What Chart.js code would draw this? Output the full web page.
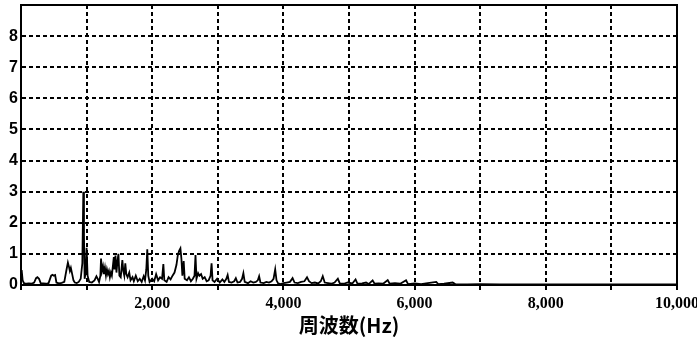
<!DOCTYPE html>
<html>
<head>
<meta charset="utf-8">
<script src="https://cdn.jsdelivr.net/npm/chart.js@4/dist/chart.umd.min.js"></script>
<style>
  body { margin: 0; background: #fff; }
</style>
</head>
<body>
<canvas id="spectrumCanvas" width="697" height="343"></canvas>
<script>
// spectrum (Hz, amplitude)
const freqHz = [
    0, 10, 25, 45, 80, 120, 160, 200, 230, 250, 275, 300, 340, 380, 420, 460, 480, 500, 520, 540,
    580, 620, 660, 690, 715, 730, 745, 760, 780, 800, 820, 850, 880, 910, 935, 950, 960, 970, 985, 1000,
    1015, 1040, 1080, 1120, 1150, 1170, 1190, 1210, 1220, 1235, 1250, 1265, 1280, 1295, 1310, 1325, 1340, 1355, 1370, 1385,
    1400, 1415, 1425, 1440, 1455, 1470, 1485, 1500, 1520, 1545, 1560, 1575, 1590, 1605, 1625, 1650, 1670, 1700, 1720, 1750,
    1780, 1810, 1840, 1870, 1890, 1910, 1925, 1940, 1960, 2000, 2030, 2060, 2090, 2120, 2150, 2170, 2185, 2220, 2250, 2280,
    2310, 2340, 2370, 2390, 2410, 2430, 2445, 2460, 2480, 2495, 2530, 2560, 2590, 2620, 2645, 2660, 2675, 2700, 2720, 2745,
    2770, 2800, 2830, 2860, 2890, 2905, 2920, 2950, 2990, 3030, 3070, 3100, 3130, 3150, 3170, 3210, 3250, 3275, 3300, 3340,
    3370, 3390, 3410, 3460, 3500, 3540, 3580, 3610, 3630, 3650, 3700, 3740, 3780, 3820, 3850, 3875, 3895, 3920, 3960, 4000,
    4050, 4100, 4140, 4170, 4220, 4270, 4320, 4360, 4390, 4430, 4480, 4530, 4570, 4600, 4630, 4680, 4730, 4780, 4830, 4860,
    4920, 4980, 5050, 5100, 5130, 5200, 5260, 5300, 5360, 5390, 5450, 5520, 5590, 5620, 5700, 5780, 5870, 5900, 6000, 6100,
    6200, 6330, 6360, 6450, 6580, 6620, 6800, 7000, 7300, 7600, 8000, 8400, 8800, 9200, 9600, 10000
];
const amplitude = [
    0.45, 0.48, 0.15, 0.06, 0.04, 0.05, 0.04, 0.08, 0.22, 0.25, 0.2, 0.06, 0.05, 0.04, 0.06, 0.3, 0.33, 0.3, 0.32, 0.08,
    0.05, 0.07, 0.1, 0.45, 0.72, 0.6, 0.45, 0.55, 0.35, 0.15, 0.08, 0.06, 0.1, 0.2, 0.7, 3.0, 1.6, 0.2, 0.4, 1.2,
    0.3, 0.1, 0.08, 0.15, 0.28, 0.2, 0.1, 0.3, 0.85, 0.45, 0.6, 0.35, 0.55, 0.3, 0.5, 0.35, 0.45, 0.25, 0.4, 0.3,
    0.6, 0.9, 0.5, 0.95, 0.4, 0.75, 1.0, 0.3, 0.25, 0.8, 0.45, 0.3, 0.7, 0.35, 0.25, 0.4, 0.15, 0.25, 0.12, 0.3,
    0.12, 0.2, 0.1, 0.28, 0.15, 0.5, 1.15, 0.3, 0.1, 0.2, 0.12, 0.35, 0.15, 0.25, 0.2, 0.67, 0.15, 0.1, 0.25, 0.18,
    0.3, 0.4, 0.65, 0.95, 1.1, 1.18, 0.85, 0.3, 0.77, 0.2, 0.15, 0.25, 0.12, 0.2, 0.3, 0.96, 0.2, 0.38, 0.3, 0.35,
    0.2, 0.25, 0.12, 0.15, 0.3, 0.7, 0.15, 0.1, 0.2, 0.08, 0.18, 0.1, 0.2, 0.32, 0.1, 0.08, 0.12, 0.22, 0.08, 0.1,
    0.2, 0.38, 0.1, 0.06, 0.12, 0.08, 0.1, 0.15, 0.28, 0.08, 0.06, 0.1, 0.08, 0.12, 0.2, 0.5, 0.15, 0.05, 0.03, 0.06,
    0.08, 0.1, 0.22, 0.08, 0.06, 0.1, 0.12, 0.25, 0.12, 0.06, 0.08, 0.05, 0.12, 0.28, 0.08, 0.06, 0.04, 0.08, 0.2, 0.05,
    0.04, 0.08, 0.05, 0.18, 0.04, 0.05, 0.08, 0.03, 0.15, 0.04, 0.05, 0.04, 0.16, 0.04, 0.06, 0.04, 0.15, 0.03, 0.05, 0.03,
    0.06, 0.1, 0.03, 0.04, 0.08, 0.03, 0.02, 0.03, 0.02, 0.02, 0.02, 0.02, 0.02, 0.02, 0.02, 0.02
];
const xLabelValues = [2000, 4000, 6000, 8000, 10000];
const yLabelValues = [0, 1, 2, 3, 4, 5, 6, 7, 8];
const xTitle = '周波数(Hz)';

const points = freqHz.map((f, i) => ({ x: f, y: amplitude[i] }));

// solid frame round the plot area
const framePlugin = {
    id: 'frame',
    afterDraw(chart) {
        const a = chart.chartArea;
        const ctx = chart.ctx;
        ctx.save();
        ctx.strokeStyle = '#000';
        ctx.lineWidth = 2;
        ctx.strokeRect(a.left, a.top, a.right - a.left, a.bottom - a.top);
        ctx.restore();
    }
};

new Chart(document.getElementById('spectrumCanvas'), {
    type: 'line',
    data: {
        datasets: [{
            data: points,
            borderColor: '#000',
            borderWidth: 1.8,
            pointRadius: 0,
            tension: 0,
            fill: false
        }]
    },
    options: {
        responsive: false,
        animation: false,
        layout: { padding: { top: 5, right: 20, left: 0, bottom: 0 } },
        plugins: { legend: { display: false }, tooltip: { enabled: false } },
        scales: {
            x: {
                type: 'linear',
                min: 0,
                max: 10000,
                ticks: {
                    stepSize: 1000,
                    autoSkip: false,
                    maxRotation: 0,
                    padding: 4,
                    color: '#000',
                    font: { family: 'Liberation Serif', size: 16, weight: 'bold' },
                    callback: (v) => xLabelValues.includes(v) ? v.toLocaleString('en-US') : ''
                },
                grid: {
                    color: '#000',
                    lineWidth: 2,
                    tickLength: 5,
                    tickBorderDash: [4, 3]
                },
                // in v4 the grid lines take their dash from border.dash
                border: { dash: [4, 3], color: '#000', width: 2 },
                title: {
                    display: true,
                    text: xTitle,
                    color: '#000',
                    padding: { top: 0, bottom: 6 },
                    font: { family: 'Noto Sans CJK JP', size: 20, weight: 'bold' }
                },
                afterFit: (scale) => {
                    scale.height = 58;
                    scale.paddingLeft = 0;
                    scale.paddingRight = 0;
                }
            },
            y: {
                min: 0,
                max: 9,
                ticks: {
                    stepSize: 1,
                    padding: 3,
                    color: '#000',
                    font: { family: 'Liberation Sans', size: 16, weight: 'bold' },
                    callback: (v) => yLabelValues.includes(v) ? String(v) : ''
                },
                grid: { color: '#000', lineWidth: 2, drawTicks: false },
                border: { dash: [4, 3], color: '#000', width: 2 },
                afterFit: (scale) => {
                    scale.width = 21;
                    scale.paddingTop = 0;
                    scale.paddingBottom = 0;
                }
            }
        }
    },
    plugins: [framePlugin]
});
</script>
</body>
</html>
